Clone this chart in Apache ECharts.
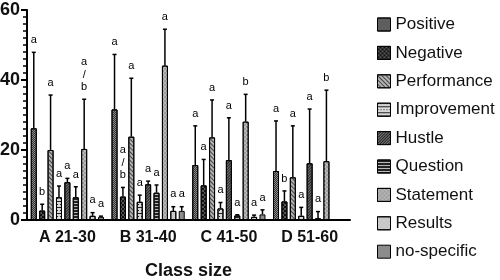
<!DOCTYPE html>
<html>
<head>
<meta charset="utf-8">
<script src="https://cdn.jsdelivr.net/npm/echarts@6/dist/echarts.min.js"></script>
<style>
  html, body { margin: 0; padding: 0; background: #fff; }
  #chart { width: 500px; height: 280px; }
</style>
</head>
<body>
<div id="chart"></div>
<script>
// 分组（班级规模）
var categories = ['A 21-30', 'B 31-40', 'C 41-50', 'D 51-60'];
var seriesNames = ['Positive', 'Negative', 'Performance', 'Improvement', 'Hustle',
                   'Question', 'Statement', 'Results', 'no-specific'];

// 均值
var positive    = [26.2, 31.6, 15.7, 14.0];
var negative    = [2.7, 6.7, 9.9, 5.3];
var performance = [20.0, 23.8, 23.6, 12.2];
var improvement = [6.5, 5.2, 3.3, 1.2];
var hustle      = [10.8, 10.2, 17.1, 16.2];
var question    = [6.5, 7.8, 1.3, 0.5];
var statement   = [20.3, 44.1, 28.1, 16.8];
var results     = [1.2, 2.6, 0.9, 0];
var noSpecific  = [0.9, 2.6, 1.6, 0];

// 标准差（只画上须）
var positiveSd    = [21.7, 15.7, 11.2, 14.3];
var negativeSd    = [1.8, 2.6, 7.4, 3.0];
var performanceSd = [15.7, 16.7, 10.7, 14.7];
var improvementSd = [3.2, 1.9, 1.7, 2.4];
var hustleSd      = [1.1, 0.9, 12.1, 15.5];
var questionSd    = [3.0, 2.2, 0.2, 1.9];
var statementSd   = [14.2, 10.4, 7.8, 20.3];
var resultsSd     = [0.9, 1.2, 0.5, 0];
var noSpecificSd  = [0.2, 1.2, 1.3, 0];

// 显著性字母
var positiveSig    = ['a', 'a', 'a', 'a'];
var negativeSig    = ['b', 'a/b', 'a', 'b'];
var performanceSig = ['a', 'a', 'a', 'a'];
var improvementSig = ['a', 'a', 'a', 'a'];
var hustleSig      = ['a', 'a', 'a', 'a'];
var questionSig    = ['a', 'a', 'a', 'a'];
var statementSig   = ['a/b', 'a', 'b', 'b'];
var resultsSig     = ['a', 'a', 'a', ''];
var noSpecificSig  = ['a', 'a', 'a', ''];

var yTicks = [0, 20, 40, 60];

var means = [positive, negative, performance, improvement, hustle, question, statement, results, noSpecific];
var sds = [positiveSd, negativeSd, performanceSd, improvementSd, hustleSd, questionSd, statementSd, resultsSd, noSpecificSd];
var sigs = [positiveSig, negativeSig, performanceSig, improvementSig, hustleSig, questionSig, statementSig, resultsSig, noSpecificSig];

var fonts = '"Liberation Sans", Arial, Helvetica, sans-serif';
var barW = 6;
var barGapPx = 2.4;

// 填充样式（黑白花纹）
var looks = [
    { color: '#8a8a8a', decal: { symbol: 'rect', symbolSize: 1, dashArrayX: [[1, 1], [0, 1, 1, 0]], dashArrayY: [1, 0], color: '#333' } },
    { color: '#555', decal: { symbol: 'rect', symbolSize: 1, dashArrayX: [[2, 2], [0, 2, 2, 0]], dashArrayY: [2, 0], color: '#111' } },
    { color: '#b4b4b4', decal: { symbol: 'rect', symbolSize: 1, dashArrayX: [1, 0], dashArrayY: [1, 2], rotation: Math.PI / 4, color: '#444' } },
    { color: '#d8d8d8', decal: { symbol: 'rect', symbolSize: 1, dashArrayX: [[1, 0], [1, 2]], dashArrayY: [1, 2], color: '#222' } },
    { color: '#777', decal: { symbol: 'rect', symbolSize: 1, dashArrayX: [1, 0], dashArrayY: [1, 1], rotation: -Math.PI / 4, color: '#222' } },
    { color: '#bbb', decal: { symbol: 'rect', symbolSize: 1, dashArrayX: [1, 0], dashArrayY: [2, 1], color: '#222' } },
    { color: '#9c9c9c', decal: { symbol: 'circle', symbolSize: 0.7, dashArrayX: [[2, 2], [0, 2, 2, 0]], dashArrayY: [2, 0], color: '#eee' } },
    { color: '#d4d4d4', decal: { symbol: 'circle', symbolSize: 0.5, dashArrayX: [[1, 1], [0, 1, 1, 0]], dashArrayY: [1, 0], color: '#666' } },
    { color: '#8c8c8c', decal: null }
];

var barSeries = seriesNames.map(function (name, s) {
    var itemStyle = {
        color: looks[s].color,
        borderColor: '#000',
        borderWidth: 1
    };
    if (looks[s].decal) itemStyle.decal = looks[s].decal;
    return {
        name: name,
        type: 'bar',
        barWidth: barW,
        barGap: (barGapPx / barW * 100) + '%',
        data: means[s].map(function (v) { return v > 0 ? v : '-'; }),
        itemStyle: itemStyle
    };
});

// 误差线 + 字母
var errData = [];
seriesNames.forEach(function (name, s) {
    categories.forEach(function (c, i) {
        if (means[s][i] > 0) {
            errData.push([i, means[s][i], means[s][i] + sds[s][i], s, sigs[s][i]]);
        }
    });
});

var errSeries = {
    type: 'custom',
    z: 5,
    silent: true,
    data: errData,
    renderItem: function (params, api) {
        var d = errData[params.dataIndex];
        var off = (d[3] - 4) * (barW + barGapPx);
        var p0 = api.coord([d[0], d[1]]);
        var p1 = api.coord([d[0], d[2]]);
        var x = p0[0] + off;
        var children = [];
        if (p0[1] - p1[1] > 0.5) {
            children.push({
                type: 'line',
                shape: { x1: x, y1: p0[1], x2: x, y2: p1[1] },
                style: { stroke: '#000', lineWidth: 1.5 }
            });
            children.push({
                type: 'line',
                shape: { x1: x - 2, y1: p1[1], x2: x + 2, y2: p1[1] },
                style: { stroke: '#000', lineWidth: 1.5 }
            });
        }
        if (d[4]) {
            children.push({
                type: 'text',
                style: {
                    x: x,
                    y: p1[1] - 6,
                    text: d[4].split('/').join('\n/\n'),
                    fill: '#000',
                    font: '11px ' + fonts,
                    lineHeight: 12.5,
                    align: 'center',
                    verticalAlign: 'bottom'
                }
            });
        }
        return { type: 'group', children: children };
    }
};

var chart = echarts.init(document.getElementById('chart'));
chart.setOption({
    animation: false,
    backgroundColor: '#fff',
    textStyle: { fontFamily: fonts },
    grid: { left: 27, right: 150, top: 10, bottom: 60, outerBoundsMode: 'none' },
    legend: {
        orient: 'vertical',
        left: 372,
        top: 11,
        icon: 'rect',
        itemWidth: 13,
        itemHeight: 13,
        itemGap: 11.4,
        data: seriesNames,
        textStyle: { fontSize: 17, color: '#111', fontFamily: fonts },
        itemStyle: { borderColor: '#000', borderWidth: 1 }
    },
    xAxis: {
        type: 'category',
        data: categories,
        name: 'Class size',
        nameLocation: 'middle',
        nameGap: 42,
        nameTextStyle: { fontSize: 18, fontWeight: 'bold', color: '#111' },
        axisLine: { lineStyle: { color: '#000', width: 2 } },
        axisTick: { alignWithLabel: true, length: 7, lineStyle: { width: 2, color: '#000' } },
        axisLabel: { fontSize: 16, fontWeight: 'bold', color: '#111', margin: 10 }
    },
    yAxis: {
        type: 'value',
        min: yTicks[0],
        max: yTicks[yTicks.length - 1],
        interval: 20,
        splitLine: { show: false },
        axisLine: { show: true, lineStyle: { color: '#000', width: 2 } },
        axisTick: { show: true, length: 6, lineStyle: { width: 2, color: '#000' } },
        minorTick: { show: true, splitNumber: 10, length: 4, lineStyle: { width: 1.5, color: '#000' } },
        axisLabel: { fontSize: 18, fontWeight: 'bold', color: '#111', margin: 7 }
    },
    series: barSeries.concat([errSeries])
});
</script>
</body>
</html>
